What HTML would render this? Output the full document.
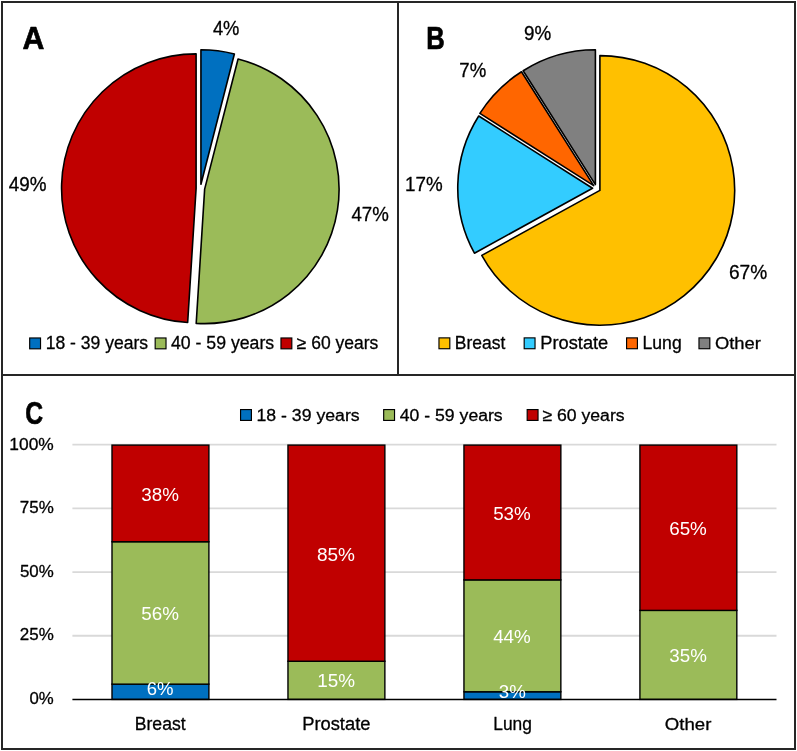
<!DOCTYPE html>
<html><head><meta charset="utf-8"><style>
html,body{margin:0;padding:0;background:#fff;}
svg{display:block;will-change:transform;}
text{font-family:"Liberation Sans",sans-serif;}
</style></head><body>
<svg width="797" height="751" viewBox="0 0 797 751">
<rect x="0" y="0" width="797" height="751" fill="#fff"/>
<rect x="2" y="2" width="793" height="747" fill="none" stroke="#262626" stroke-width="2"/>
<line x1="398" y1="2" x2="398" y2="375" stroke="#262626" stroke-width="2"/>
<line x1="2" y1="375" x2="795" y2="375" stroke="#262626" stroke-width="2"/>
<path d="M200.94,184.23 L200.94,49.78 A134.45,134.45 0 0 1 234.38,54.01 Z" fill="#0070C0" stroke="#000" stroke-width="1.6" stroke-linejoin="round"/>
<path d="M204.65,189.17 L238.08,58.95 A134.45,134.45 0 0 1 196.20,323.36 Z" fill="#9BBB59" stroke="#000" stroke-width="1.6" stroke-linejoin="round"/>
<path d="M196.10,188.36 L187.66,322.55 A134.45,134.45 0 0 1 196.10,53.91 Z" fill="#C00000" stroke="#000" stroke-width="1.6" stroke-linejoin="round"/>
<path d="M599.90,190.41 L599.90,55.61 A134.8,134.8 0 1 1 481.77,255.35 Z" fill="#FFC000" stroke="#000" stroke-width="1.6" stroke-linejoin="round"/>
<path d="M592.55,188.28 L474.43,253.22 A134.8,134.8 0 0 1 478.74,116.05 Z" fill="#33CCFF" stroke="#000" stroke-width="1.6" stroke-linejoin="round"/>
<path d="M593.71,185.61 L479.89,113.38 A134.8,134.8 0 0 1 521.48,71.79 Z" fill="#FF6600" stroke="#000" stroke-width="1.6" stroke-linejoin="round"/>
<path d="M595.40,184.61 L523.17,70.79 A134.8,134.8 0 0 1 595.40,49.81 Z" fill="#808080" stroke="#000" stroke-width="1.6" stroke-linejoin="round"/>
<text x="22.59" y="49.45" font-size="31.45" font-weight="bold" fill="#000" stroke="#000" stroke-width="0.7" stroke-linejoin="round" textLength="21.88" lengthAdjust="spacingAndGlyphs">A</text>
<text x="426.19" y="48.65" font-size="30.87" font-weight="bold" fill="#000" stroke="#000" stroke-width="0.7" stroke-linejoin="round" textLength="18.47" lengthAdjust="spacingAndGlyphs">B</text>
<text x="25.36" y="424.44" font-size="31.27" font-weight="bold" fill="#000" stroke="#000" stroke-width="0.7" stroke-linejoin="round" textLength="17.86" lengthAdjust="spacingAndGlyphs">C</text>
<text x="212.89" y="35.34" font-size="19.40" fill="#000" stroke="#000" stroke-width="0.3" stroke-linejoin="round" textLength="26.51" lengthAdjust="spacingAndGlyphs">4%</text>
<text x="8.68" y="190.59" font-size="19.40" fill="#000" stroke="#000" stroke-width="0.3" stroke-linejoin="round" textLength="37.76" lengthAdjust="spacingAndGlyphs">49%</text>
<text x="351.38" y="220.89" font-size="19.40" fill="#000" stroke="#000" stroke-width="0.3" stroke-linejoin="round" textLength="37.35" lengthAdjust="spacingAndGlyphs">47%</text>
<text x="524.00" y="40.19" font-size="19.40" fill="#000" stroke="#000" stroke-width="0.3" stroke-linejoin="round" textLength="27.21" lengthAdjust="spacingAndGlyphs">9%</text>
<text x="459.32" y="76.59" font-size="19.40" fill="#000" stroke="#000" stroke-width="0.3" stroke-linejoin="round" textLength="26.89" lengthAdjust="spacingAndGlyphs">7%</text>
<text x="405.04" y="190.74" font-size="19.40" fill="#000" stroke="#000" stroke-width="0.3" stroke-linejoin="round" textLength="37.59" lengthAdjust="spacingAndGlyphs">17%</text>
<text x="728.89" y="279.29" font-size="19.40" fill="#000" stroke="#000" stroke-width="0.3" stroke-linejoin="round" textLength="38.25" lengthAdjust="spacingAndGlyphs">67%</text>
<rect x="29.68" y="337.97" width="10.85" height="10.85" fill="#0070C0" stroke="#000" stroke-width="1.15"/>
<rect x="155.17" y="337.97" width="10.85" height="10.85" fill="#9BBB59" stroke="#000" stroke-width="1.15"/>
<rect x="280.97" y="337.97" width="10.85" height="10.85" fill="#C00000" stroke="#000" stroke-width="1.15"/>
<text x="45.63" y="348.60" font-size="17.86" fill="#000" stroke="#000" stroke-width="0.3" stroke-linejoin="round" textLength="102.46" lengthAdjust="spacingAndGlyphs">18 - 39 years</text>
<text x="171.01" y="348.60" font-size="17.86" fill="#000" stroke="#000" stroke-width="0.3" stroke-linejoin="round" textLength="103.19" lengthAdjust="spacingAndGlyphs">40 - 59 years</text>
<text x="296.73" y="348.60" font-size="17.86" fill="#000" stroke="#000" stroke-width="0.3" stroke-linejoin="round" textLength="81.58" lengthAdjust="spacingAndGlyphs">≥ 60 years</text>
<rect x="438.97" y="337.88" width="10.85" height="10.85" fill="#FFC000" stroke="#000" stroke-width="1.15"/>
<rect x="524.18" y="337.88" width="10.85" height="10.85" fill="#33CCFF" stroke="#000" stroke-width="1.15"/>
<rect x="626.58" y="337.88" width="10.85" height="10.85" fill="#FF6600" stroke="#000" stroke-width="1.15"/>
<rect x="698.98" y="337.88" width="10.85" height="10.85" fill="#808080" stroke="#000" stroke-width="1.15"/>
<text x="454.85" y="348.55" font-size="18.04" fill="#000" stroke="#000" stroke-width="0.3" stroke-linejoin="round" textLength="50.48" lengthAdjust="spacingAndGlyphs">Breast</text>
<text x="540.29" y="348.55" font-size="18.04" fill="#000" stroke="#000" stroke-width="0.3" stroke-linejoin="round" textLength="67.97" lengthAdjust="spacingAndGlyphs">Prostate</text>
<text x="642.54" y="348.55" font-size="18.04" fill="#000" stroke="#000" stroke-width="0.3" stroke-linejoin="round" textLength="39.15" lengthAdjust="spacingAndGlyphs">Lung</text>
<text x="714.92" y="348.55" font-size="17.17" fill="#000" stroke="#000" stroke-width="0.3" stroke-linejoin="round" textLength="45.92" lengthAdjust="spacingAndGlyphs">Other</text>
<rect x="240.57" y="409.57" width="10.85" height="10.85" fill="#0070C0" stroke="#000" stroke-width="1.15"/>
<rect x="383.68" y="409.57" width="10.85" height="10.85" fill="#9BBB59" stroke="#000" stroke-width="1.15"/>
<rect x="527.18" y="409.57" width="10.85" height="10.85" fill="#C00000" stroke="#000" stroke-width="1.15"/>
<text x="256.42" y="420.55" font-size="17.29" fill="#000" stroke="#000" stroke-width="0.3" stroke-linejoin="round" textLength="103.27" lengthAdjust="spacingAndGlyphs">18 - 39 years</text>
<text x="399.81" y="420.55" font-size="17.29" fill="#000" stroke="#000" stroke-width="0.3" stroke-linejoin="round" textLength="102.89" lengthAdjust="spacingAndGlyphs">40 - 59 years</text>
<text x="542.42" y="420.55" font-size="17.29" fill="#000" stroke="#000" stroke-width="0.3" stroke-linejoin="round" textLength="82.18" lengthAdjust="spacingAndGlyphs">≥ 60 years</text>
<line x1="72.4" y1="635.73" x2="776.5" y2="635.73" stroke="#D9D9D9" stroke-width="1.8"/>
<line x1="72.4" y1="572.05" x2="776.5" y2="572.05" stroke="#D9D9D9" stroke-width="1.8"/>
<line x1="72.4" y1="508.38" x2="776.5" y2="508.38" stroke="#D9D9D9" stroke-width="1.8"/>
<line x1="72.4" y1="444.70" x2="776.5" y2="444.70" stroke="#D9D9D9" stroke-width="1.8"/>
<text x="9.35" y="450.11" font-size="16.55" fill="#000" stroke="#000" stroke-width="0.3" stroke-linejoin="round" textLength="44.37" lengthAdjust="spacingAndGlyphs">100%</text>
<text x="19.80" y="513.08" font-size="16.55" fill="#000" stroke="#000" stroke-width="0.3" stroke-linejoin="round" textLength="33.97" lengthAdjust="spacingAndGlyphs">75%</text>
<text x="19.97" y="576.96" font-size="16.55" fill="#000" stroke="#000" stroke-width="0.3" stroke-linejoin="round" textLength="33.79" lengthAdjust="spacingAndGlyphs">50%</text>
<text x="19.80" y="640.36" font-size="16.55" fill="#000" stroke="#000" stroke-width="0.3" stroke-linejoin="round" textLength="33.97" lengthAdjust="spacingAndGlyphs">25%</text>
<text x="29.48" y="704.16" font-size="16.55" fill="#000" stroke="#000" stroke-width="0.3" stroke-linejoin="round" textLength="24.26" lengthAdjust="spacingAndGlyphs">0%</text>
<rect x="112.00" y="684.14" width="96.9" height="15.26" fill="#0070C0" stroke="#000" stroke-width="1.4"/>
<rect x="112.00" y="541.73" width="96.9" height="142.41" fill="#9BBB59" stroke="#000" stroke-width="1.4"/>
<rect x="112.00" y="445.10" width="96.9" height="96.63" fill="#C00000" stroke="#000" stroke-width="1.4"/>
<rect x="287.97" y="661.25" width="96.9" height="38.14" fill="#9BBB59" stroke="#000" stroke-width="1.4"/>
<rect x="287.97" y="445.10" width="96.9" height="216.15" fill="#C00000" stroke="#000" stroke-width="1.4"/>
<rect x="463.95" y="691.77" width="96.9" height="7.63" fill="#0070C0" stroke="#000" stroke-width="1.4"/>
<rect x="463.95" y="579.88" width="96.9" height="111.89" fill="#9BBB59" stroke="#000" stroke-width="1.4"/>
<rect x="463.95" y="445.10" width="96.9" height="134.78" fill="#C00000" stroke="#000" stroke-width="1.4"/>
<rect x="639.92" y="610.39" width="96.9" height="89.00" fill="#9BBB59" stroke="#000" stroke-width="1.4"/>
<rect x="639.92" y="445.10" width="96.9" height="165.29" fill="#C00000" stroke="#000" stroke-width="1.4"/>
<line x1="72.4" y1="699.4" x2="776.5" y2="699.4" stroke="#000" stroke-width="1.5"/>
<text x="141.25" y="500.62" font-size="19.20" fill="#fff" textLength="37.64" lengthAdjust="spacingAndGlyphs">38%</text>
<text x="141.25" y="619.72" font-size="19.20" fill="#fff" textLength="37.64" lengthAdjust="spacingAndGlyphs">56%</text>
<text x="146.77" y="694.92" font-size="19.20" fill="#fff" textLength="26.78" lengthAdjust="spacingAndGlyphs">6%</text>
<text x="316.94" y="560.62" font-size="19.20" fill="#fff" textLength="38.05" lengthAdjust="spacingAndGlyphs">85%</text>
<text x="317.18" y="687.13" font-size="19.20" fill="#fff" textLength="37.81" lengthAdjust="spacingAndGlyphs">15%</text>
<text x="493.15" y="519.62" font-size="19.20" fill="#fff" textLength="37.64" lengthAdjust="spacingAndGlyphs">53%</text>
<text x="493.13" y="642.82" font-size="19.20" fill="#fff" textLength="37.66" lengthAdjust="spacingAndGlyphs">44%</text>
<text x="498.85" y="697.52" font-size="19.20" fill="#fff" textLength="27.01" lengthAdjust="spacingAndGlyphs">3%</text>
<text x="669.16" y="534.82" font-size="19.20" fill="#fff" textLength="37.73" lengthAdjust="spacingAndGlyphs">65%</text>
<text x="669.35" y="661.72" font-size="19.20" fill="#fff" textLength="37.53" lengthAdjust="spacingAndGlyphs">35%</text>
<text x="134.74" y="730.35" font-size="17.83" fill="#000" stroke="#000" stroke-width="0.3" stroke-linejoin="round" textLength="50.89" lengthAdjust="spacingAndGlyphs">Breast</text>
<text x="302.18" y="730.35" font-size="17.83" fill="#000" stroke="#000" stroke-width="0.3" stroke-linejoin="round" textLength="68.28" lengthAdjust="spacingAndGlyphs">Prostate</text>
<text x="493.26" y="730.35" font-size="17.83" fill="#000" stroke="#000" stroke-width="0.3" stroke-linejoin="round" textLength="38.61" lengthAdjust="spacingAndGlyphs">Lung</text>
<text x="664.81" y="730.35" font-size="16.97" fill="#000" stroke="#000" stroke-width="0.3" stroke-linejoin="round" textLength="46.54" lengthAdjust="spacingAndGlyphs">Other</text>
</svg>
</body></html>
